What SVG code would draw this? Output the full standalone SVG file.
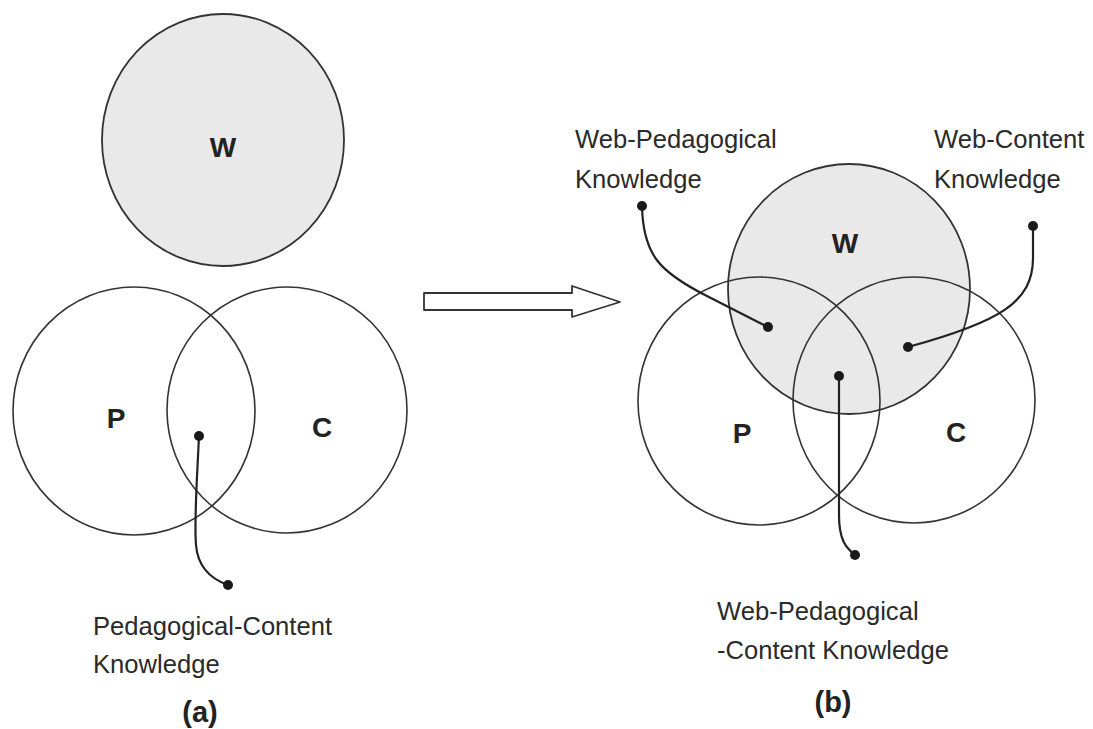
<svg xmlns="http://www.w3.org/2000/svg" width="1093" height="729" viewBox="0 0 1093 729">
  <defs>
    <style>
      .set { fill: none; stroke: #333; stroke-width: 1.6; }
      .web { fill: #e9e9e9; stroke: #333; stroke-width: 1.8; }
      .lbl { font-family: "Liberation Sans", Arial, sans-serif; font-size: 28px; font-weight: bold; fill: #222; text-anchor: middle; }
      .cap { font-family: "Liberation Sans", Arial, sans-serif; font-size: 25.6px; fill: #2a2a2a; }
      .fig { font-family: "Liberation Sans", Arial, sans-serif; font-size: 29px; font-weight: bold; fill: #222; text-anchor: middle; }
      .lead { fill: none; stroke: #222; stroke-width: 2.2; }
      .dot { fill: #1a1a1a; }
    </style>
  </defs>
  <rect width="1093" height="729" fill="#ffffff"/>

  <!-- (a) -->
  <g id="a-W">
    <ellipse class="web" cx="223" cy="140" rx="121" ry="126"/>
    <text class="lbl" x="223" y="157">W</text>
  </g>
  <g id="a-P">
    <ellipse class="set" cx="134" cy="411" rx="121" ry="124"/>
    <text class="lbl" x="116" y="428">P</text>
  </g>
  <g id="a-C">
    <ellipse class="set" cx="287" cy="410" rx="120" ry="123"/>
    <text class="lbl" x="322" y="437">C</text>
  </g>
  <g id="a-PC-label">
    <text class="cap" x="93" y="635">Pedagogical-Content</text>
    <text class="cap" x="93" y="673">Knowledge</text>
  </g>
  <text id="a-caption" class="fig" x="200" y="722">(a)</text>

  <!-- transition arrow -->
  <g id="arrow">
    <polygon points="424,293 572,293 572,286 620,302 572,317 572,310 424,310" fill="#ffffff" stroke="#333" stroke-width="1.8" stroke-linejoin="round"/>
  </g>

  <!-- (b) -->
  <g id="b-W">
    <ellipse class="web" cx="849" cy="289" rx="121" ry="125"/>
    <text class="lbl" x="845" y="253">W</text>
  </g>
  <g id="b-P">
    <ellipse class="set" cx="759" cy="401" rx="121" ry="124"/>
    <text class="lbl" x="742" y="443">P</text>
  </g>
  <g id="b-C">
    <ellipse class="set" cx="914" cy="400" rx="121" ry="123"/>
    <text class="lbl" x="956" y="442">C</text>
  </g>
  <g id="b-WP-label">
    <text class="cap" x="575" y="148">Web-Pedagogical</text>
    <text class="cap" x="575" y="188">Knowledge</text>
  </g>
  <g id="b-WC-label">
    <text class="cap" x="934" y="148">Web-Content</text>
    <text class="cap" x="934" y="188">Knowledge</text>
  </g>
  <g id="b-WPC-label">
    <text class="cap" x="717" y="620">Web-Pedagogical</text>
    <text class="cap" x="717" y="659">-Content Knowledge</text>
  </g>
  <text id="b-caption" class="fig" x="833" y="712">(b)</text>

  <!-- connectors -->
  <g id="connectors">
    <path class="lead" d="M199,436 C197,480 194,520 196,545 C198,570 214,580 228,585"/>
    <circle class="dot" cx="199" cy="436" r="5"/>
    <circle class="dot" cx="228" cy="585" r="5"/>

    <path class="lead" d="M642,206 C643,255 660,272 705,295 S752,319 768,327"/>
    <circle class="dot" cx="642" cy="206" r="5"/>
    <circle class="dot" cx="768" cy="327" r="5"/>

    <path class="lead" d="M1033,226 L1033,258 C1033,302 1000,322 908,347"/>
    <circle class="dot" cx="1033" cy="226" r="5"/>
    <circle class="dot" cx="908" cy="347" r="5"/>

    <path class="lead" d="M839,376 L839,515 C839,540 846,548 855,555"/>
    <circle class="dot" cx="839" cy="376" r="5"/>
    <circle class="dot" cx="855" cy="555" r="5"/>
  </g>
</svg>
